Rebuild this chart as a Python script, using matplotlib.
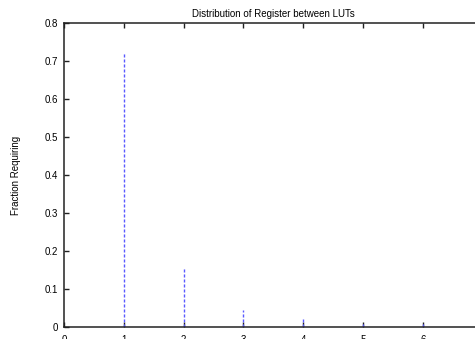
import numpy as np
import matplotlib
matplotlib.use("Agg")
import matplotlib.pyplot as plt

plt.rcParams['font.family'] = ['Liberation Sans', 'DejaVu Sans']

# distance in LUTs between registers, and fraction of registers needing it
distance = [1, 2, 3, 4, 5, 6]
fraction = [0.72, 0.159, 0.045, 0.022, 0.015, 0.012]

xticks = [0, 1, 2, 3, 4, 5, 6]
yticks = [0, 0.1, 0.2, 0.3, 0.4, 0.5, 0.6, 0.7, 0.8]
ytick_labels = ['0', '0.1', '0.2', '0.3', '0.4', '0.5', '0.6', '0.7', '0.8']

fig = plt.figure(figsize=(4.75, 3.39), dpi=100)
ax = fig.add_axes([64 / 475, 11.7 / 339, 418.8 / 475, 304.3 / 339])

# gnuplot style impulses
ax.vlines(distance, 0, fraction, colors='#5a5aff', linestyles=(0, (2.2, 1.4)), linewidth=1.0)

ax.set_xlim(0, 7)
ax.set_ylim(0, 0.8)
ax.set_xticks(xticks)
ax.set_yticks(yticks)
ax.set_yticklabels(ytick_labels)
ax.tick_params(direction='in', length=3.6, width=1.0, labelsize=7, top=True, color='#222222')
ax.tick_params(axis='x', pad=5.5)
ax.tick_params(axis='y', pad=4.3)
for s in ax.spines.values():
    s.set_linewidth(1.1)
    s.set_color('#222222')

ax.set_title('Distribution of Register between LUTs', fontsize=7, pad=4)
fig.text(16 / 475, 1 - 175 / 339, 'Fraction Requiring', rotation=90, fontsize=7,
         ha='center', va='center')

fig.savefig('out.png', dpi=100)
